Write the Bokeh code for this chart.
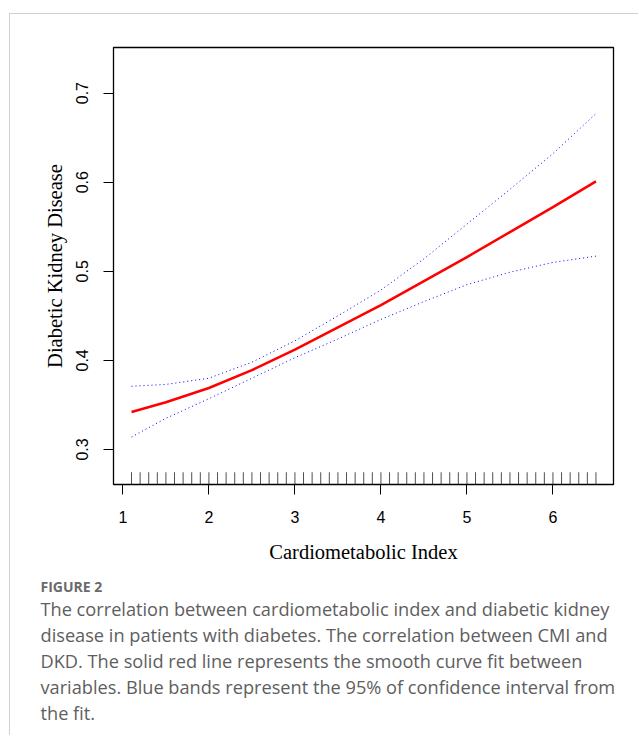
from bokeh.plotting import figure
from bokeh.layouts import column
from bokeh.models import FixedTicker, Range1d
from bokeh.core.properties import value
from bokeh.embed import file_html
from bokeh.resources import INLINE

# ---- data ----
cmi = [1.1, 1.5, 2.0, 2.5, 3.0, 3.5, 4.0, 4.5, 5.0, 5.5, 6.0, 6.5]
fit = [0.342, 0.353, 0.369, 0.389, 0.412, 0.437, 0.462, 0.489, 0.516, 0.544, 0.572, 0.601]
upper = [0.371, 0.373, 0.380, 0.398, 0.422, 0.450, 0.479, 0.514, 0.553, 0.592, 0.632, 0.677]
lower = [0.314, 0.335, 0.357, 0.380, 0.403, 0.424, 0.446, 0.466, 0.485, 0.499, 0.510, 0.517]
rug_x = [1.1, 1.2, 1.3, 1.4, 1.5, 1.6, 1.7, 1.8, 1.9, 2.0,
         2.1, 2.2, 2.3, 2.4, 2.5, 2.6, 2.7, 2.8, 2.9, 3.0,
         3.1, 3.2, 3.3, 3.4, 3.5, 3.6, 3.7, 3.8, 3.9, 4.0,
         4.1, 4.2, 4.3, 4.4, 4.5, 4.6, 4.7, 4.8, 4.9, 5.0,
         5.1, 5.2, 5.3, 5.4, 5.5, 5.6, 5.7, 5.8, 5.9, 6.0,
         6.1, 6.2, 6.3, 6.4, 6.5]
x_ticks = [1, 2, 3, 4, 5, 6]
y_ticks = [0.3, 0.4, 0.5, 0.6, 0.7]
x_title = "Cardiometabolic Index"
y_title = "Diabetic Kidney Disease"
caption_head = "FIGURE 2"
caption_lines = [
    "The correlation between cardiometabolic index and diabetic kidney",
    "disease in patients with diabetes. The correlation between CMI and",
    "DKD. The solid red line represents the smooth curve fit between",
    "variables. Blue bands represent the 95% of confidence interval from",
    "the fit.",
]

# ---- chart ----
XR = (0.8906, 6.704)
YR = (0.2607, 0.7512)
p = figure(output_backend="svg", toolbar_location=None,
           frame_width=500, frame_height=437,
           min_border_left=103, min_border_right=25,
           min_border_top=33, min_border_bottom=80,
           x_range=Range1d(*XR), y_range=Range1d(*YR))
p.frame_align = False
p.xgrid.visible = False
p.ygrid.visible = False
p.outline_line_color = "black"
p.outline_line_width = 1.3
p.background_fill_color = "white"
p.border_fill_color = "white"

for ax, ticks, bnds in ((p.xaxis[0], x_ticks, (1, 6)), (p.yaxis[0], y_ticks, (0.3, 0.7))):
    ax.ticker = FixedTicker(ticks=ticks)
    ax.bounds = bnds
    ax.minor_tick_line_color = None
    ax.major_tick_in = 0
    ax.major_tick_out = 10
    ax.major_tick_line_color = "black"
    ax.axis_line_color = "black"
    ax.major_label_text_font = "Liberation Sans"
    ax.major_label_text_font_size = "16px"
    ax.major_label_text_color = "black"
    ax.axis_label_text_font = "Liberation Serif"
    ax.axis_label_text_font_size = "20.5px"
    ax.axis_label_text_font_style = "normal"
    ax.axis_label_text_color = "black"

p.xaxis[0].axis_label = x_title
p.xaxis[0].major_label_standoff = 16
p.xaxis[0].axis_label_standoff = 15
p.yaxis[0].axis_label = y_title
p.yaxis[0].major_label_orientation = "vertical"
p.yaxis[0].major_label_standoff = 15
p.yaxis[0].axis_label_standoff = 8

rug_top = YR[0] + 0.028 * (YR[1] - YR[0])
p.segment(x0=rug_x, y0=[YR[0]] * len(rug_x), x1=rug_x, y1=[rug_top] * len(rug_x),
          line_color="#222222", line_width=0.8)

p.line(cmi, upper, line_color="#0000ff", line_width=1, line_dash="1 3")
p.line(cmi, lower, line_color="#0000ff", line_width=1, line_dash="1 3")
p.line(cmi, fit, line_color="#ff0000", line_width=2.5)

# ---- caption ----
CW, CH = 628, 170
c = figure(output_backend="svg", toolbar_location=None, width=CW, height=CH,
           x_range=Range1d(0, CW), y_range=Range1d(CH, 0),
           x_axis_location=None, y_axis_location=None, min_border=0)
c.frame_align = False
c.xgrid.visible = False
c.ygrid.visible = False
c.outline_line_color = None
c.text(x=[30], y=[21], text=[caption_head], text_font=value("Open Sans"),
       text_font_size="14px", text_font_style="bold", text_color="#6a6a6a",
       text_baseline="middle")
c.text(x=[30] * len(caption_lines), y=[43, 69, 95, 121, 147], text=caption_lines,
       text_font=value("Open Sans"), text_font_size="18.2px", text_color="#5e5e5e",
       text_baseline="middle")

layout = column(p, c, styles={"border-top": "1px solid #d0d0d0",
                              "border-left": "1px solid #d0d0d0",
                              "margin-top": "13px", "margin-left": "9px"})

open("out.html", "w").write(file_html(layout, INLINE))
